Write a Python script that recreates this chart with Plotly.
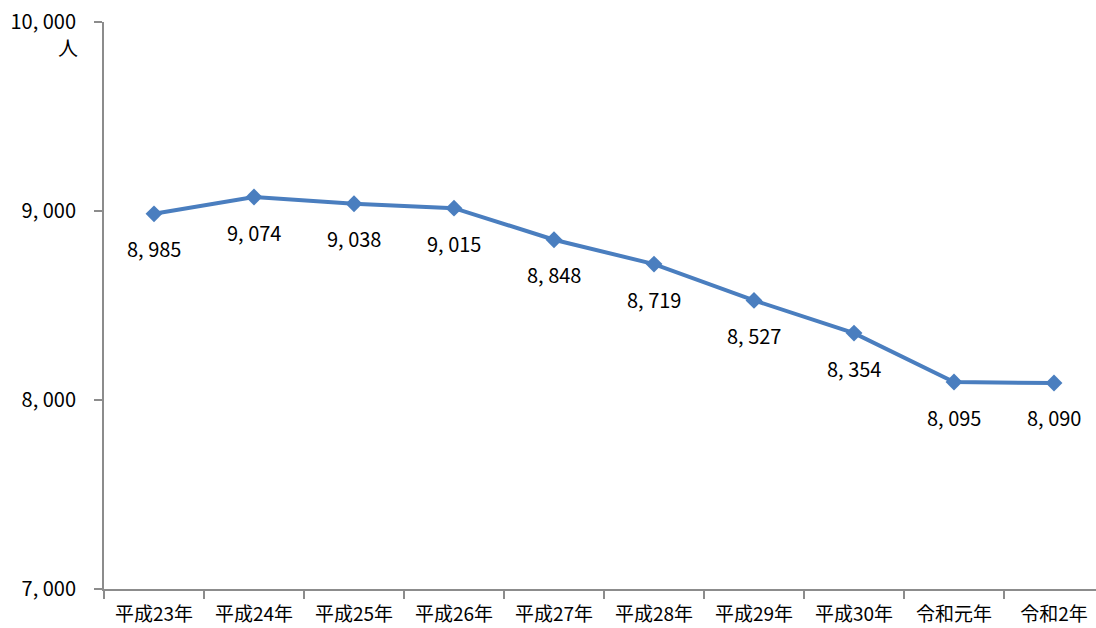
import plotly.graph_objects as go

years = ["平成23年", "平成24年", "平成25年", "平成26年", "平成27年",
         "平成28年", "平成29年", "平成30年", "令和元年", "令和2年"]
people = [8985, 9074, 9038, 9015, 8848, 8719, 8527, 8354, 8095, 8090]
y_ticks = [7000, 8000, 9000, 10000]

FONT = "Noto Sans CJK JP"
LINE_COLOR = "#4A7EBF"
AXIS_COLOR = "#8C8C8C"


def fmt(v):
    return f"{v:,}".replace(",", ", ")


fig = go.Figure()
fig.add_trace(go.Scatter(
    x=years, y=people, mode="lines+markers",
    line=dict(color=LINE_COLOR, width=4),
    marker=dict(symbol="diamond", size=13, color=LINE_COLOR),
    hoverinfo="skip", showlegend=False,
))

# value labels under each point
for x, v in zip(years, people):
    fig.add_annotation(x=x, y=v, text=fmt(v), showarrow=False, yshift=-35,
                       font=dict(family=FONT, size=20, color="#000"))

# unit label under the top tick
fig.add_annotation(xref="paper", yref="paper", x=-0.024, y=0.955, text="人",
                   showarrow=False, xanchor="right", yanchor="middle",
                   font=dict(family=FONT, size=20, color="#000"))

fig.update_layout(
    width=1096, height=628,
    margin=dict(l=104, r=0, t=22, b=39),
    paper_bgcolor="white", plot_bgcolor="white",
    font=dict(family=FONT, size=20, color="#000"),
    xaxis=dict(
        type="category", range=[-0.5, 9.42], tickson="boundaries",
        showgrid=False, zeroline=False, showline=True, linecolor=AXIS_COLOR,
        linewidth=2, ticks="outside", ticklen=8, tickcolor=AXIS_COLOR,
        tickwidth=2, tickfont=dict(family=FONT, size=19),
        ticklabelstandoff=7, automargin=False,
    ),
    yaxis=dict(
        range=[7000, 10000], tickmode="array", tickvals=y_ticks,
        ticktext=[fmt(v) for v in y_ticks],
        showgrid=False, zeroline=False, showline=True, linecolor=AXIS_COLOR,
        linewidth=2, ticks="outside", ticklen=8, tickcolor=AXIS_COLOR,
        tickwidth=2, tickfont=dict(family=FONT, size=20),
        ticklabelstandoff=14, automargin=False,
    ),
)

fig.write_html("out.html")
